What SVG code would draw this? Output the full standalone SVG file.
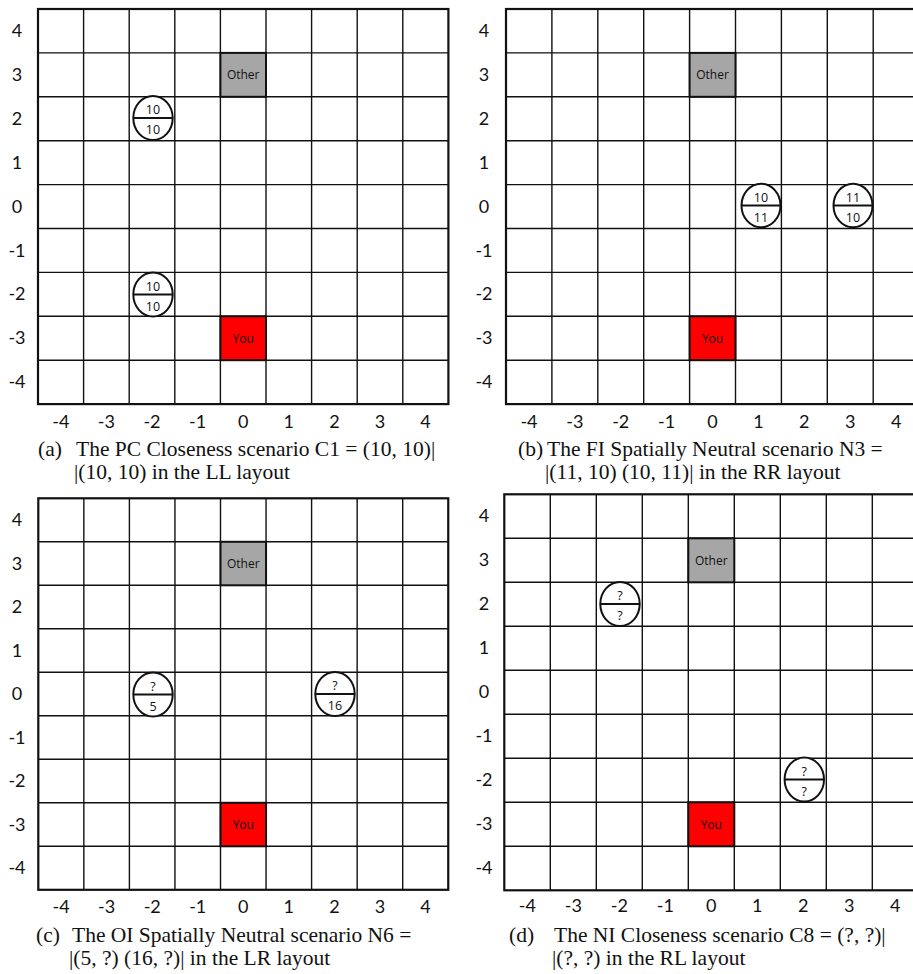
<svg xmlns="http://www.w3.org/2000/svg" width="913" height="974" viewBox="0 0 913 974">
<style>
.bg{fill:#fff}
.grid{fill:none;stroke:#111;stroke-width:1.4}
.frame{fill:none;stroke:#111;stroke-width:2.2}
.ax{font-family:Lato,"Liberation Sans",sans-serif;font-size:18px;fill:#111;text-anchor:middle}
.cap{font-family:"Liberation Serif","Times New Roman",serif;font-size:21.5px;fill:#111}
.other{fill:#a6a6a6;stroke:#111;stroke-width:2}
.you{fill:#ff0000;stroke:#111;stroke-width:2}
.lbl{font-family:"Open Sans","Liberation Sans",sans-serif;font-size:12px;fill:#111;text-anchor:middle}
.tok{fill:#fff;stroke:#111;stroke-width:2}
.div{stroke:#111;stroke-width:1.8}
.num{font-family:"Open Sans","Liberation Sans",sans-serif;font-size:12.5px;fill:#111;text-anchor:middle}
</style>
<rect class="bg" x="0" y="0" width="913" height="974"/>

<!-- Panel A -->
<g id="panel-a">
<path class="grid" d="M83.6 9V404.1M129.2 9V404.1M174.8 9V404.1M220.4 9V404.1M266 9V404.1M311.6 9V404.1M357.2 9V404.1M402.8 9V404.1M38 52.9H448.4M38 96.8H448.4M38 140.7H448.4M38 184.6H448.4M38 228.5H448.4M38 272.4H448.4M38 316.3H448.4M38 360.2H448.4"/>
<rect class="frame" x="38" y="9" width="410.4" height="395.1"/>
<g class="ax">
<text x="17" y="37">4</text><text x="17" y="81">3</text><text x="17" y="125">2</text><text x="17" y="169">1</text><text x="17" y="213">0</text><text x="17" y="257">-1</text><text x="17" y="300">-2</text><text x="17" y="344">-3</text><text x="17" y="388">-4</text>
<text x="60.8" y="428">-4</text><text x="106.4" y="428">-3</text><text x="152" y="428">-2</text><text x="197.6" y="428">-1</text><text x="243.2" y="428">0</text><text x="288.8" y="428">1</text><text x="334.4" y="428">2</text><text x="380" y="428">3</text><text x="425.6" y="428">4</text>
</g>
<text class="cap" x="38" y="456">(a)</text>
<text class="cap" x="76" y="456">The PC Closeness scenario C1 = (10, 10)|</text>
<text class="cap" x="74" y="479">|(10, 10) in the LL layout</text>
</g>
<g id="a-other"><rect class="other" x="220.4" y="52.9" width="45.6" height="43.9"/><text class="lbl" x="243.2" y="79">Other</text></g>
<g id="a-you"><rect class="you" x="220.4" y="316.3" width="45.6" height="43.9"/><text class="lbl" x="243.2" y="342.5">You</text></g>
<g id="a-tok1"><ellipse class="tok" cx="153" cy="118" rx="19.7" ry="22"/><line class="div" x1="133.3" y1="118" x2="172.7" y2="118"/><text class="num" x="153" y="114">10</text><text class="num" x="153" y="134">10</text></g>
<g id="a-tok2"><ellipse class="tok" cx="153" cy="294.5" rx="19.7" ry="22"/><line class="div" x1="133.3" y1="294.5" x2="172.7" y2="294.5"/><text class="num" x="153" y="290.5">10</text><text class="num" x="153" y="310.5">10</text></g>

<!-- Panel B -->
<g id="panel-b">
<path class="grid" d="M551.9 9V404.1M597.8 9V404.1M643.7 9V404.1M689.6 9V404.1M735.5 9V404.1M781.4 9V404.1M827.3 9V404.1M873.2 9V404.1M506 52.9H919.1M506 96.8H919.1M506 140.7H919.1M506 184.6H919.1M506 228.5H919.1M506 272.4H919.1M506 316.3H919.1M506 360.2H919.1"/>
<rect class="frame" x="506" y="9" width="413.1" height="395.1"/>
<g class="ax">
<text x="484" y="37">4</text><text x="484" y="81">3</text><text x="484" y="125">2</text><text x="484" y="169">1</text><text x="484" y="213">0</text><text x="484" y="257">-1</text><text x="484" y="300">-2</text><text x="484" y="344">-3</text><text x="484" y="388">-4</text>
<text x="528.95" y="428">-4</text><text x="574.85" y="428">-3</text><text x="620.75" y="428">-2</text><text x="666.65" y="428">-1</text><text x="712.55" y="428">0</text><text x="758.45" y="428">1</text><text x="804.35" y="428">2</text><text x="850.25" y="428">3</text><text x="896.15" y="428">4</text>
</g>
<text class="cap" x="518" y="456">(b)</text>
<text class="cap" x="547" y="456">The FI Spatially Neutral scenario N3 =</text>
<text class="cap" x="545" y="479">|(11, 10) (10, 11)| in the RR layout</text>
</g>
<g id="b-other"><rect class="other" x="689.6" y="52.9" width="45.9" height="43.9"/><text class="lbl" x="712.55" y="79">Other</text></g>
<g id="b-you"><rect class="you" x="689.6" y="316.3" width="45.9" height="43.9"/><text class="lbl" x="712.55" y="342.5">You</text></g>
<g id="b-tok1"><ellipse class="tok" cx="761" cy="205.5" rx="19.5" ry="21.8"/><line class="div" x1="741.5" y1="205.5" x2="780.5" y2="205.5"/><text class="num" x="761" y="201.5">10</text><text class="num" x="761" y="221.5">11</text></g>
<g id="b-tok2"><ellipse class="tok" cx="853" cy="205.5" rx="19.5" ry="21.8"/><line class="div" x1="833.5" y1="205.5" x2="872.5" y2="205.5"/><text class="num" x="853" y="201.5">11</text><text class="num" x="853" y="221.5">10</text></g>

<!-- Panel C -->
<g id="panel-c">
<path class="grid" d="M83.85 498.3V889.8M129.4 498.3V889.8M174.95 498.3V889.8M220.5 498.3V889.8M266.05 498.3V889.8M311.6 498.3V889.8M357.15 498.3V889.8M402.7 498.3V889.8M38.3 541.8H448.25M38.3 585.3H448.25M38.3 628.8H448.25M38.3 672.3H448.25M38.3 715.8H448.25M38.3 759.3H448.25M38.3 802.8H448.25M38.3 846.3H448.25"/>
<rect class="frame" x="38.3" y="498.3" width="409.95" height="391.5"/>
<g class="ax">
<text x="17" y="526">4</text><text x="17" y="570">3</text><text x="17" y="613">2</text><text x="17" y="657">1</text><text x="17" y="700">0</text><text x="17" y="744">-1</text><text x="17" y="787">-2</text><text x="17" y="831">-3</text><text x="17" y="874">-4</text>
<text x="61.1" y="913">-4</text><text x="106.6" y="913">-3</text><text x="152.2" y="913">-2</text><text x="197.7" y="913">-1</text><text x="243.3" y="913">0</text><text x="288.8" y="913">1</text><text x="334.4" y="913">2</text><text x="379.9" y="913">3</text><text x="425.5" y="913">4</text>
</g>
<text class="cap" x="36" y="942">(c)</text>
<text class="cap" x="72" y="942">The OI Spatially Neutral scenario N6 =</text>
<text class="cap" x="69" y="965">|(5, ?) (16, ?)| in the LR layout</text>
</g>
<g id="c-other"><rect class="other" x="220.5" y="541.8" width="45.55" height="43.5"/><text class="lbl" x="243.3" y="567.8">Other</text></g>
<g id="c-you"><rect class="you" x="220.5" y="802.8" width="45.55" height="43.5"/><text class="lbl" x="243.3" y="828.8">You</text></g>
<g id="c-tok1"><ellipse class="tok" cx="153" cy="694.5" rx="19.7" ry="22"/><line class="div" x1="133.3" y1="694.5" x2="172.7" y2="694.5"/><text class="num" x="153" y="690.5">?</text><text class="num" x="153" y="710.5">5</text></g>
<g id="c-tok2"><ellipse class="tok" cx="335" cy="694" rx="19.7" ry="22"/><line class="div" x1="315.3" y1="694" x2="354.7" y2="694"/><text class="num" x="335" y="690">?</text><text class="num" x="335" y="710">16</text></g>

<!-- Panel D -->
<g id="panel-d">
<path class="grid" d="M550.3 494.3V890.3M596.3 494.3V890.3M642.3 494.3V890.3M688.3 494.3V890.3M734.3 494.3V890.3M780.3 494.3V890.3M826.3 494.3V890.3M872.3 494.3V890.3M504.3 538.3H918.3M504.3 582.3H918.3M504.3 626.3H918.3M504.3 670.3H918.3M504.3 714.3H918.3M504.3 758.3H918.3M504.3 802.3H918.3M504.3 846.3H918.3"/>
<rect class="frame" x="504.3" y="494.3" width="414" height="396"/>
<g class="ax">
<text x="484" y="522">4</text><text x="484" y="566">3</text><text x="484" y="610">2</text><text x="484" y="654">1</text><text x="484" y="698">0</text><text x="484" y="742">-1</text><text x="484" y="786">-2</text><text x="484" y="830">-3</text><text x="484" y="874">-4</text>
<text x="527.3" y="912">-4</text><text x="573.3" y="912">-3</text><text x="619.3" y="912">-2</text><text x="665.3" y="912">-1</text><text x="711.3" y="912">0</text><text x="757.3" y="912">1</text><text x="803.3" y="912">2</text><text x="849.3" y="912">3</text><text x="895.3" y="912">4</text>
</g>
<text class="cap" x="509" y="942">(d)</text>
<text class="cap" x="554" y="942">The NI Closeness scenario C8 = (?, ?)|</text>
<text class="cap" x="552" y="965">|(?, ?) in the RL layout</text>
</g>
<g id="d-other"><rect class="other" x="688.3" y="538.3" width="46" height="44"/><text class="lbl" x="711.3" y="564.5">Other</text></g>
<g id="d-you"><rect class="you" x="688.3" y="802.3" width="46" height="44"/><text class="lbl" x="711.3" y="828.5">You</text></g>
<g id="d-tok1"><ellipse class="tok" cx="620" cy="604" rx="19.7" ry="22"/><line class="div" x1="600.3" y1="604" x2="639.7" y2="604"/><text class="num" x="620" y="600">?</text><text class="num" x="620" y="620">?</text></g>
<g id="d-tok2"><ellipse class="tok" cx="804.3" cy="779.5" rx="19.7" ry="22"/><line class="div" x1="784.6" y1="779.5" x2="824" y2="779.5"/><text class="num" x="804.3" y="775.5">?</text><text class="num" x="804.3" y="795.5">?</text></g>

<g id="connectors"></g>
</svg>
